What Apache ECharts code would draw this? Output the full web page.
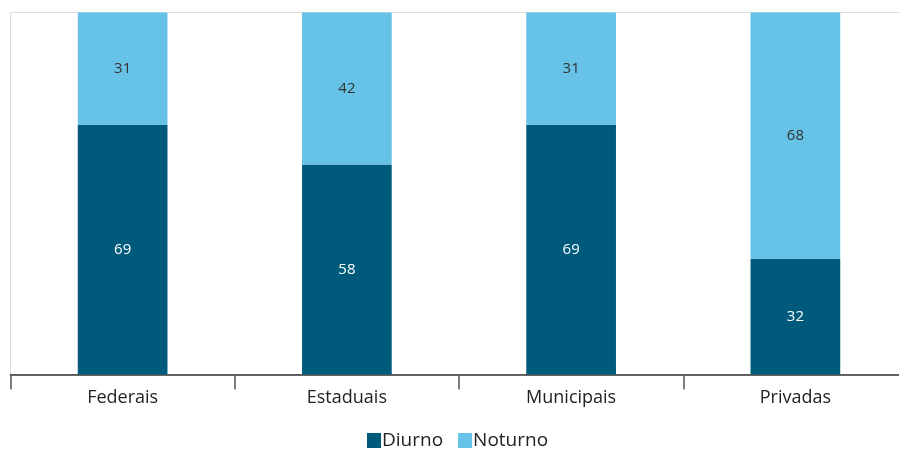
<!DOCTYPE html>
<html><head><meta charset="utf-8">
<script src="https://cdn.jsdelivr.net/npm/echarts@6/dist/echarts.min.js"></script>
<style>html,body{margin:0;padding:0;background:#fff}#c{width:899px;height:451px}</style>
</head><body><div id="c"></div>
<script>
const categories = ['Federais', 'Estaduais', 'Municipais', 'Privadas'];
const diurno = [69, 58, 69, 32];
const noturno = [31, 42, 31, 68];

const chart = echarts.init(document.getElementById('c'));
const font = '"Open Sans", "Noto Sans", sans-serif';
chart.setOption({
  animation: false,
  grid: { left: 10.5, width: 897, top: 12.5, height: 362, show: true, borderColor: '#dcdcdc', borderWidth: 1, outerBoundsMode: 'none', containLabel: false },
  xAxis: {
    type: 'category', data: categories,
    axisLine: { lineStyle: { color: '#333', width: 1.5 } },
    axisTick: { show: true, length: 15, lineStyle: { color: '#555', width: 1.5 } },
    axisLabel: { color: '#222', fontSize: 18, fontFamily: font, margin: 14 }
  },
  yAxis: { type: 'value', min: 0, max: 100, show: false, splitLine: { show: false } },
  legend: {
    top: 431, left: 367, itemWidth: 14, itemHeight: 15, itemGap: 15, padding: 0,
    textStyle: { color: '#222', fontSize: 19, fontFamily: font, padding: [0, 0, 0, -4] },
    data: [{ name: 'Diurno', icon: 'rect' }, { name: 'Noturno', icon: 'rect' }]
  },
  series: [
    { name: 'Diurno', type: 'bar', stack: 't', data: diurno, barWidth: '40%',
      itemStyle: { color: '#005a7c' },
      label: { show: true, position: 'inside', color: '#fff', fontSize: 15, fontFamily: font } },
    { name: 'Noturno', type: 'bar', stack: 't', data: noturno, barWidth: '40%',
      itemStyle: { color: '#66c2e6' },
      label: { show: true, position: 'inside', color: '#333', fontSize: 15, fontFamily: font } }
  ]
});
</script></body></html>
